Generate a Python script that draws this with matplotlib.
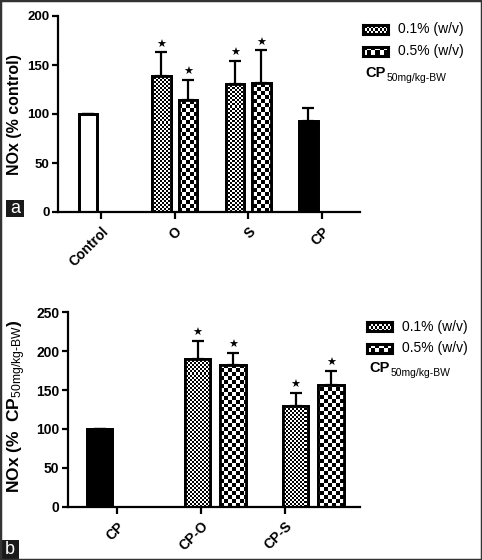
import numpy as np
import matplotlib.pyplot as plt
from matplotlib.patches import Rectangle

plt.rcParams['font.family'] = ['Liberation Sans', 'DejaVu Sans']
plt.rcParams['mathtext.fontset'] = 'custom'
plt.rcParams['mathtext.rm'] = 'Liberation Sans'
plt.rcParams['mathtext.bf'] = 'Liberation Sans:bold'
plt.rcParams['mathtext.it'] = 'Liberation Sans:italic'

W, H = 482, 560

# panel a : NOx (% control)
a_groups = ['Control', 'O', 'S', 'CP']
a_control = 100
a_cp, a_cp_err = 93, 13
a_low = [139, 131]
a_low_err = [24, 23]
a_high = [114, 132]
a_high_err = [21, 33]

# panel b : NOx (% CP)
b_groups = ['CP', 'CP-O', 'CP-S']
b_cp = 100
b_low = [190, 129]
b_low_err = [23, 17]
b_high = [182, 156]
b_high_err = [16, 19]

legend_labels = ['0.1% (w/v)', '0.5% (w/v)']

FINE, COARSE = 2, 4   # taille des cases du damier (px)


def px_axes(l, t, r, b):
    return [l / W, 1 - b / H, (r - l) / W, (b - t) / H]


def checker_img(nx, ny):
    return np.add.outer(np.arange(ny), np.arange(nx)) % 2


def fill_checker(ax, bars, cell):
    bb = ax.get_position()
    nx = int(round(bb.width * W / cell))
    ny = int(round(bb.height * H / cell))
    x0, x1 = ax.get_xlim()
    y0, y1 = ax.get_ylim()
    for b in bars:
        im = ax.imshow(checker_img(nx, ny), cmap='gray', extent=(x0, x1, y0, y1),
                       origin='lower', interpolation='nearest', aspect='auto', zorder=2.5)
        im.set_clip_path(b)
    ax.set_xlim(x0, x1)
    ax.set_ylim(y0, y1)


def draw_bars(ax, x, vals, errs, width, face='white'):
    x = np.atleast_1d(x)
    vals = np.atleast_1d(vals)
    errs = np.atleast_1d(errs)
    ax.errorbar(x, vals, yerr=[np.zeros_like(errs), errs], fmt='none', ecolor='black',
                elinewidth=1.6, capsize=4.5, capthick=1.6, zorder=1)
    bars = ax.bar(x, vals, width, color=face, edgecolor='black', linewidth=2, zorder=2)
    ax.bar(x, vals, width, color='none', edgecolor='black', linewidth=2, zorder=3)
    return bars


def stars(ax, x, tops):
    for xi, t in zip(x, tops):
        ax.annotate('★', xy=(xi, t), xytext=(0, 2), textcoords='offset points',
                    ha='center', va='bottom', fontsize=8, family='DejaVu Sans')


def style_axes(ax, fs):
    for s in ['top', 'right']:
        ax.spines[s].set_visible(False)
    for s in ['left', 'bottom']:
        ax.spines[s].set_linewidth(1.6)
    ax.tick_params(axis='both', width=1.6, length=4, labelsize=fs, pad=2)
    for lab in ax.get_yticklabels():
        lab.set_fontweight('bold')


def swatch(fig, l, t, r, b, cell):
    sa = fig.add_axes(px_axes(l, t, r, b))
    nx = int(round((r - l) / cell))
    ny = int(round((b - t) / cell))
    sa.imshow(checker_img(nx, ny), cmap='gray', interpolation='nearest', aspect='auto')
    sa.set_xticks([])
    sa.set_yticks([])
    for s in sa.spines.values():
        s.set_linewidth(2.2)


def legend(fig, x, y1, y2, ycp):
    swatch(fig, x, y1 - 4.5, x + 25, y1 + 4.5, FINE)
    swatch(fig, x, y2 - 4.5, x + 25, y2 + 4.5, COARSE)
    fig.text((x + 35) / W, 1 - y1 / H, legend_labels[0], fontsize=10, va='center')
    fig.text((x + 35) / W, 1 - y2 / H, legend_labels[1], fontsize=10, va='center')
    fig.text((x + 2) / W, 1 - ycp / H, 'CP', fontsize=10.5, fontweight='bold', va='center')
    fig.text((x + 24) / W, 1 - (ycp + 5) / H, '50mg/kg-BW', fontsize=7.5, va='center')


fig = plt.figure(figsize=(W / 100, H / 100), dpi=100)

# ---------------- panel a ----------------
ax = fig.add_axes(px_axes(58, 16, 360, 212))
off, wa = 0.18, 0.25
ax.set_xlim(-0.584, 3.52)
ax.set_ylim(0, 200)
xg = np.arange(len(a_groups))

draw_bars(ax, xg[0] - off, a_control, 0, wa, face='white')
draw_bars(ax, xg[3] - off, a_cp, a_cp_err, wa, face='black')
low = draw_bars(ax, xg[1:3] - off, a_low, a_low_err, wa)
high = draw_bars(ax, xg[1:3] + off, a_high, a_high_err, wa)
fill_checker(ax, low, FINE)
fill_checker(ax, high, COARSE)
stars(ax, xg[1:3] - off, np.add(a_low, a_low_err))
stars(ax, xg[1:3] + off, np.add(a_high, a_high_err))

ax.set_yticks([0, 50, 100, 150, 200])
ax.set_xticks(xg)
ax.set_xticklabels(a_groups, rotation=45, ha='right', rotation_mode='anchor',
                   fontweight='bold', fontsize=10)
style_axes(ax, 9.5)
ax.tick_params(axis='x', length=5, pad=4, labelsize=10)
ax.set_ylabel('NOx (% control)', fontsize=11.5, fontweight='bold')
ax.yaxis.set_label_coords(-0.118, 0.495)

legend(fig, 363, 29, 51, 73)

# ---------------- panel b ----------------
bx = fig.add_axes(px_axes(67.7, 312.3, 360, 506.7))
offb, wb = 0.18, 0.26
bx.set_xlim(-0.506, 2.477)
bx.set_ylim(0, 250)
xb = np.arange(len(b_groups))

draw_bars(bx, xb[0] - offb, b_cp, 0, wb, face='black')
lowb = draw_bars(bx, xb[1:] - offb, b_low, b_low_err, wb)
highb = draw_bars(bx, xb[1:] + offb, b_high, b_high_err, wb)
fill_checker(bx, lowb, FINE)
fill_checker(bx, highb, COARSE)
stars(bx, xb[1:] - offb, np.add(b_low, b_low_err))
stars(bx, xb[1:] + offb, np.add(b_high, b_high_err))

bx.set_yticks([0, 50, 100, 150, 200, 250])
bx.set_xticks([0, 0.857, 1.71])
bx.set_xticklabels(b_groups, rotation=45, ha='right', rotation_mode='anchor',
                   fontweight='bold', fontsize=10)
style_axes(bx, 10)
bx.tick_params(axis='x', length=5, pad=4, labelsize=10)
bx.set_ylabel(r'$\mathbf{NOx\ (\%\ \ CP}_{\mathrm{50mg/kg\text{-}BW}}\mathbf{)}$', fontsize=12.5)
bx.yaxis.set_label_coords(-0.136, 0.515)

legend(fig, 367, 326.7, 348.3, 368)

# ---------------- panel tags + frame ----------------
fig.add_artist(Rectangle((6 / W, 1 - 217 / H), 18 / W, 17 / H, transform=fig.transFigure,
                         facecolor='#1a1a1a', edgecolor='none'))
fig.text(15 / W, 1 - 208.5 / H, 'a', color='white', fontsize=13, ha='center', va='center')
fig.add_artist(Rectangle((0, 0), 19 / W, 20 / H, transform=fig.transFigure,
                         facecolor='#1a1a1a', edgecolor='none'))
fig.text(9.5 / W, 10 / H, 'b', color='white', fontsize=13, ha='center', va='center')
fig.add_artist(Rectangle((0, 0), 1, 1, transform=fig.transFigure, facecolor='none',
                         edgecolor='#333333', linewidth=2.5))

fig.savefig('out.png', dpi=100)
